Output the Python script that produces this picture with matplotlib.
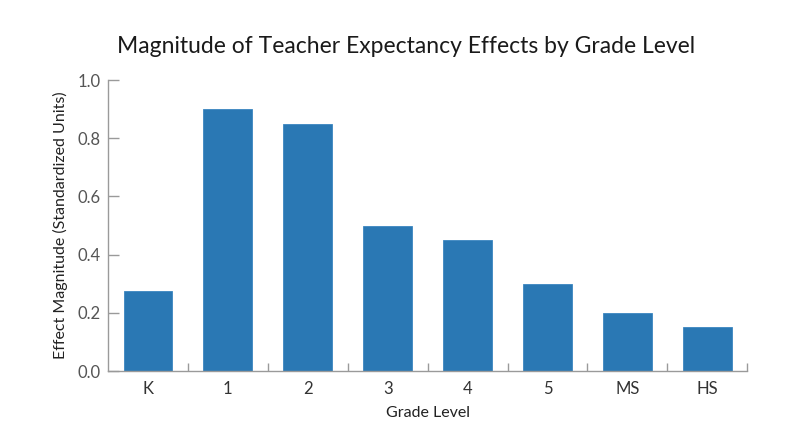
import matplotlib
matplotlib.use("Agg")
import matplotlib.pyplot as plt
import numpy as np

categories = ["K", "1", "2", "3", "4", "5", "MS", "HS"]
values = [0.275, 0.90, 0.85, 0.50, 0.45, 0.30, 0.20, 0.15]
yticks = [0.0, 0.2, 0.4, 0.6, 0.8, 1.0]

plt.rcParams['font.family'] = ['Lato', 'DejaVu Sans']

fig = plt.figure(figsize=(8, 4.47), dpi=100)
ax = fig.add_axes([0.135, 0.170, 0.799, 0.651])

x = np.arange(len(categories))
ax.bar(x, values, width=0.61, color="#2a78b4", edgecolor="#3b86c0", linewidth=0.6, zorder=2)

ax.set_xlim(-0.5, len(categories) - 0.5)
ax.set_ylim(0, 1.0)
ax.set_yticks(yticks)
ax.set_yticklabels([f"{v:.1f}" for v in yticks])
ax.set_xticks(x)
ax.set_xticklabels(categories)
ax.set_xticks(np.arange(len(categories)) + 0.5, minor=True)

for s in ["top", "right"]:
    ax.spines[s].set_visible(False)
for s in ["left", "bottom"]:
    ax.spines[s].set_color("#9a9a9a")
    ax.spines[s].set_linewidth(1.0)

ax.tick_params(axis="x", which="major", length=0, pad=7, labelsize=12, labelcolor="#333333")
ax.tick_params(axis="x", which="minor", direction="in", length=6, color="#9a9a9a", width=1.0)
ax.tick_params(axis="y", direction="in", length=8, color="#9a9a9a", width=1.0, pad=5,
               labelsize=12, labelcolor="#555555")

ax.set_xlabel("Grade Level", fontsize=11.5, color="#222222", labelpad=7)
ax.set_ylabel("Effect Magnitude (Standardized Units)", fontsize=11.5, color="#222222", labelpad=7)
fig.suptitle("Magnitude of Teacher Expectancy Effects by Grade Level", fontsize=16.5,
             color="#1a1a1a", x=0.508, y=0.92)

fig.savefig("out.png", dpi=100)
